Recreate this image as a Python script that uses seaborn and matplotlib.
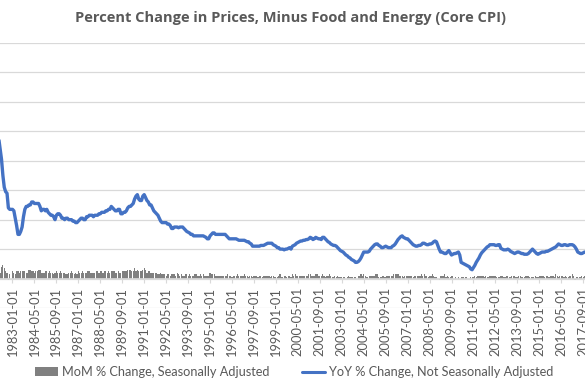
import matplotlib
matplotlib.use("Agg")
import matplotlib.pyplot as plt
import numpy as np
import pandas as pd
import seaborn as sns
from matplotlib.lines import Line2D
from matplotlib.patches import Patch

# Core CPI, monthly, starting 1982-01 (index 0 of the chart axis is 1983-01)
start_month = "1982-01-01"

# YoY % change, not seasonally adjusted (one row per year, Jan..Dec)
yoy = [
    10.5, 10.0, 9.5, 8.8, 8.1, 7.0, 6.2, 5.9, 5.8, 4.8, 4.7, 4.7,      # 1982
    4.7, 4.6, 4.1, 3.6, 3.0, 3.0, 3.2, 3.5, 4.2, 4.7, 4.9, 4.9,        # 1983
    5.0, 5.0, 5.2, 5.2, 5.1, 5.1, 5.1, 5.1, 4.9, 4.6, 4.7, 4.7,        # 1984
    4.6, 4.7, 4.5, 4.4, 4.3, 4.3, 4.2, 4.0, 4.3, 4.4, 4.4, 4.3,        # 1985
    4.1, 4.1, 4.0, 4.1, 4.1, 4.0, 4.0, 4.0, 3.9, 3.9, 3.8, 3.8,        # 1986
    3.9, 4.0, 4.1, 4.1, 4.0, 4.0, 4.2, 4.2, 4.3, 4.3, 4.3, 4.2,        # 1987
    4.3, 4.3, 4.3, 4.4, 4.4, 4.5, 4.5, 4.5, 4.6, 4.6, 4.7, 4.7,        # 1988
    4.9, 4.8, 4.7, 4.6, 4.6, 4.7, 4.7, 4.4, 4.4, 4.5, 4.5, 4.6,        # 1989
    4.8, 4.9, 4.9, 5.0, 5.1, 5.4, 5.6, 5.7, 5.4, 5.3, 5.3, 5.6,        # 1990
    5.7, 5.5, 5.3, 5.2, 5.0, 5.0, 4.8, 4.6, 4.5, 4.4, 4.3, 4.1,        # 1991
    3.9, 3.8, 3.8, 3.8, 3.8, 3.7, 3.7, 3.6, 3.4, 3.4, 3.5, 3.5,        # 1992
    3.5, 3.45, 3.5, 3.5, 3.5, 3.4, 3.3, 3.2, 3.15, 3.1, 3.0, 3.0,      # 1993
    2.9, 2.9, 2.9, 2.9, 2.9, 2.9, 2.9, 2.9, 2.85, 2.8, 2.7, 2.7,       # 1994
    2.9, 3.0, 3.1, 3.1, 3.0, 3.0, 3.0, 3.0, 3.0, 3.0, 3.0, 3.0,        # 1995
    2.9, 2.8, 2.7, 2.7, 2.7, 2.7, 2.7, 2.7, 2.65, 2.6, 2.6, 2.6,       # 1996
    2.6, 2.6, 2.55, 2.5, 2.5, 2.4, 2.35, 2.2, 2.2, 2.2, 2.2, 2.2,      # 1997
    2.2, 2.25, 2.25, 2.25, 2.3, 2.35, 2.4, 2.4, 2.4, 2.4, 2.3, 2.25,   # 1998
    2.2, 2.1, 2.1, 2.0, 2.0, 2.0, 1.95, 2.0, 2.0, 2.05, 2.1, 2.0,      # 1999
    2.2, 2.25, 2.3, 2.4, 2.45, 2.5, 2.55, 2.55, 2.6, 2.6, 2.65, 2.65,  # 2000
    2.7, 2.8, 2.75, 2.65, 2.7, 2.8, 2.75, 2.7, 2.7, 2.65, 2.8, 2.8,    # 2001
    2.7, 2.6, 2.5, 2.45, 2.35, 2.3, 2.25, 2.25, 2.2, 2.1, 2.0, 1.9,    # 2002
    1.85, 1.8, 1.7, 1.6, 1.55, 1.45, 1.4, 1.3, 1.25, 1.2, 1.1, 1.1,    # 2003
    1.15, 1.25, 1.4, 1.6, 1.8, 1.8, 1.8, 1.8, 1.85, 2.0, 2.1, 2.2,     # 2004
    2.3, 2.35, 2.35, 2.25, 2.2, 2.1, 2.1, 2.15, 2.2, 2.15, 2.1, 2.1,   # 2005
    2.1, 2.2, 2.25, 2.35, 2.5, 2.65, 2.75, 2.85, 2.9, 2.8, 2.75, 2.7,  # 2006
    2.7, 2.6, 2.5, 2.4, 2.3, 2.25, 2.2, 2.2, 2.25, 2.25, 2.3, 2.4,     # 2007
    2.4, 2.35, 2.3, 2.3, 2.35, 2.35, 2.4, 2.5, 2.55, 2.5, 2.25, 2.0,   # 2008
    1.8, 1.8, 1.75, 1.7, 1.7, 1.8, 1.9, 1.75, 1.6, 1.65, 1.7, 1.7,     # 2009
    1.75, 1.8, 1.6, 1.1, 1.05, 1.0, 0.95, 0.9, 0.85, 0.8, 0.65, 0.6,   # 2010
    0.75, 0.9, 1.1, 1.25, 1.4, 1.6, 1.75, 1.85, 1.95, 2.05, 2.15, 2.2, # 2011
    2.3, 2.3, 2.3, 2.3, 2.25, 2.25, 2.3, 2.3, 2.05, 2.0, 1.95, 1.95,   # 2012
    1.95, 2.0, 1.95, 1.85, 1.8, 1.75, 1.7, 1.75, 1.8, 1.8, 1.75, 1.7,  # 2013
    1.7, 1.65, 1.65, 1.65, 1.7, 1.8, 1.9, 2.0, 1.9, 1.8, 1.7, 1.65,    # 2014
    1.7, 1.75, 1.8, 1.8, 1.8, 1.85, 1.85, 1.9, 1.95, 2.0, 2.05, 2.1,   # 2015
    2.15, 2.25, 2.35, 2.3, 2.25, 2.25, 2.3, 2.3, 2.25, 2.25, 2.3, 2.3, # 2016
    2.3, 2.25, 2.15, 2.0, 1.8, 1.75, 1.7, 1.7, 1.75, 1.8, 1.8, 1.8,    # 2017
    1.8, 1.85, 2.1, 2.1, 2.2, 2.25,                                    # 2018
]

# MoM % change, seasonally adjusted
mom = [
    0.8, 0.7, 0.4, 0.4, 0.8, 0.9, 0.7, 0.5, 0.4, -0.1, 0.3, 0.0,  # 1982
    0.5, 0.4, 0.3, 0.5, 0.5, 0.4, 0.5, 0.5, 0.5, 0.5, 0.4, 0.4,   # 1983
    0.6, 0.6, 0.5, 0.5, 0.4, 0.5, 0.5, 0.6, 0.6, 0.4, 0.4, 0.4,   # 1984
    0.5, 0.5, 0.4, 0.5, 0.4, 0.4, 0.3, 0.4, 0.5, 0.4, 0.4, 0.5,   # 1985
    0.4, 0.4, 0.4, 0.3, 0.3, 0.4, 0.4, 0.5, 0.4, 0.3, 0.4, 0.3,   # 1986
    0.5, 0.4, 0.4, 0.5, 0.4, 0.4, 0.4, 0.5, 0.5, 0.4, 0.4, 0.4,   # 1987
    0.4, 0.5, 0.5, 0.4, 0.5, 0.5, 0.4, 0.5, 0.5, 0.4, 0.5, 0.4,   # 1988
    0.5, 0.5, 0.5, 0.4, 0.4, 0.5, 0.4, 0.4, 0.5, 0.5, 0.5, 0.5,   # 1989
    0.6, 0.6, 0.6, 0.5, 0.5, 0.7, 0.5, 0.6, 0.5, 0.5, 0.5, 0.6,   # 1990
    0.7, 0.6, 0.4, 0.5, 0.5, 0.4, 0.4, 0.4, 0.4, 0.4, 0.3, 0.3,   # 1991
    0.4, 0.3, 0.3, 0.3, 0.2, 0.3, 0.3, 0.2, 0.3, 0.3, 0.3, 0.2,   # 1992
    0.4, 0.3, 0.2, 0.3, 0.2, 0.2, 0.3, 0.3, 0.2, 0.3, 0.2, 0.2,   # 1993
    0.2, 0.3, 0.3, 0.2, 0.2, 0.3, 0.2, 0.3, 0.2, 0.2, 0.2, 0.2,   # 1994
    0.4, 0.3, 0.3, 0.3, 0.2, 0.2, 0.2, 0.2, 0.2, 0.2, 0.2, 0.2,   # 1995
    0.2, 0.3, 0.2, 0.2, 0.1, 0.2, 0.2, 0.2, 0.3, 0.2, 0.2, 0.2,   # 1996
    0.2, 0.3, 0.2, 0.2, 0.1, 0.2, 0.2, 0.1, 0.2, 0.2, 0.2, 0.1,   # 1997
    0.2, 0.2, 0.1, 0.2, 0.2, 0.2, 0.2, 0.2, 0.1, 0.2, 0.2, 0.1,   # 1998
    0.1, 0.1, 0.2, 0.3, 0.1, 0.1, 0.2, 0.2, 0.1, 0.2, 0.2, 0.1,   # 1999
    0.3, 0.2, 0.3, 0.2, 0.2, 0.2, 0.2, 0.2, 0.2, 0.2, 0.2, 0.2,   # 2000
    0.3, 0.3, 0.2, 0.2, 0.2, 0.3, 0.3, 0.2, 0.2, 0.2, 0.3, 0.2,   # 2001
    0.1, 0.2, 0.2, 0.3, 0.2, 0.1, 0.1, 0.2, 0.1, 0.2, 0.1, 0.1,   # 2002
    0.1, 0.1, 0.1, 0.0, 0.1, 0.2, 0.1, 0.1, 0.1, 0.1, 0.1, 0.0,   # 2003
    0.2, 0.2, 0.3, 0.2, 0.3, 0.2, 0.1, 0.1, 0.2, 0.2, 0.2, 0.2,   # 2004
    0.2, 0.3, 0.3, 0.1, 0.1, 0.1, 0.2, 0.1, 0.1, 0.2, 0.2, 0.2,   # 2005
    0.2, 0.2, 0.3, 0.3, 0.3, 0.3, 0.2, 0.2, 0.2, 0.1, 0.2, 0.2,   # 2006
    0.2, 0.2, 0.2, 0.2, 0.1, 0.2, 0.2, 0.2, 0.2, 0.2, 0.3, 0.2,   # 2007
    0.3, 0.2, 0.2, 0.1, 0.2, 0.2, 0.3, 0.2, 0.1, 0.1, 0.0, -0.1,  # 2008
    0.2, 0.2, 0.2, 0.3, 0.1, 0.2, 0.1, 0.1, 0.2, 0.2, 0.0, 0.1,   # 2009
    0.0, 0.1, 0.0, 0.1, 0.1, 0.1, 0.1, 0.1, 0.0, 0.0, 0.1, 0.1,   # 2010
    0.1, 0.2, 0.1, 0.2, 0.2, 0.2, 0.2, 0.2, 0.1, 0.2, 0.1, 0.1,   # 2011
    0.2, 0.2, 0.2, 0.2, 0.2, 0.1, 0.1, 0.1, 0.2, 0.2, 0.1, 0.1,   # 2012
    0.2, 0.2, 0.1, 0.1, 0.2, 0.2, 0.2, 0.1, 0.1, 0.2, 0.2, 0.1,   # 2013
    0.1, 0.1, 0.2, 0.2, 0.2, 0.1, 0.1, 0.1, 0.1, 0.2, 0.1, 0.1,   # 2014
    0.2, 0.2, 0.2, 0.2, 0.1, 0.2, 0.2, 0.1, 0.2, 0.2, 0.2, 0.1,   # 2015
    0.3, 0.2, 0.1, 0.2, 0.2, 0.2, 0.1, 0.2, 0.1, 0.1, 0.2, 0.2,   # 2016
    0.3, 0.2, -0.1, 0.1, 0.1, 0.1, 0.1, 0.2, 0.1, 0.2, 0.1, 0.1,  # 2017
    0.3, 0.2, 0.2, 0.1, 0.2, 0.2,                                 # 2018
]

title = "Percent Change in Prices, Minus Food and Energy (Core CPI)"
mom_label = "MoM % Change, Seasonally Adjusted"
yoy_label = "YoY % Change, Not Seasonally Adjusted"
tick_every = 16  # months between date labels

dates = pd.date_range(start_month, periods=len(yoy), freq="MS")
df = pd.DataFrame({
    "pos": np.arange(len(yoy)) - 12,   # 0 = 1983-01, first label
    "date": dates.strftime("%Y-%m-%d"),
    "yoy": yoy,
    "mom": mom,
})

sns.set_theme(style="white")
plt.rcParams["font.family"] = ["Lato", "DejaVu Sans"]

text_grey = "#595959"
grid_grey = "#d9d9d9"
bar_grey = "#808080"
line_blue = "#4472C4"

fig = plt.figure(figsize=(5.85, 3.9), dpi=100)
# the original chart is cropped on both sides, so the axes run past the canvas
ax = fig.add_axes([-0.00913, 1 - 308 / 390, 1.0624, 265 / 390])

sns.barplot(data=df, x="pos", y="mom", native_scale=True, color=bar_grey,
            saturation=1, width=0.85, errorbar=None, linewidth=0, ax=ax)
sns.lineplot(data=df, x="pos", y="yoy", color=line_blue, linewidth=2.4, ax=ax)

# spine position first: moving it resets the ticks
for side in ["top", "left", "right"]:
    ax.spines[side].set_visible(False)
ax.spines["bottom"].set_position(("data", 0))
ax.spines["bottom"].set_color(grid_grey)

ax.set_xlim(-13, 440)
ax.set_ylim(-2, 16)
ax.set_yticks(np.arange(-2, 17, 2))
ax.yaxis.grid(True, color=grid_grey, linewidth=0.9)
ax.set_axisbelow(True)
ax.tick_params(axis="y", left=False, labelleft=False)

tick_pos = df["pos"][(df["pos"] % tick_every == 0) & (df["pos"] >= 0)]
ax.set_xticks(tick_pos.to_list())
ax.set_xticklabels(df.set_index("pos").loc[tick_pos, "date"].to_list())
ax.tick_params(axis="x", bottom=True, length=3, width=0.8, color=grid_grey,
               pad=3, labelsize=9.3, labelcolor=text_grey, labelrotation=90)
ax.set_xlabel("")
ax.set_ylabel("")

fig.text(0.497, 1 - 18 / 390, title, ha="center", va="center",
         fontsize=10.5, fontweight="bold", color=text_grey,
         family=["Open Sans", "DejaVu Sans"])

handles = [Patch(facecolor=bar_grey, edgecolor="none"),
           Line2D([0], [0], color=line_blue, linewidth=2.2)]
fig.legend(handles, [mom_label, yoy_label], loc="center",
           bbox_to_anchor=(0.503, 1 - 372 / 390), ncol=2, frameon=False,
           fontsize=9.2, labelcolor=text_grey, handlelength=1.8,
           handletextpad=0.3, columnspacing=2.6)

plt.savefig("out.png", dpi=100)
plt.close()
